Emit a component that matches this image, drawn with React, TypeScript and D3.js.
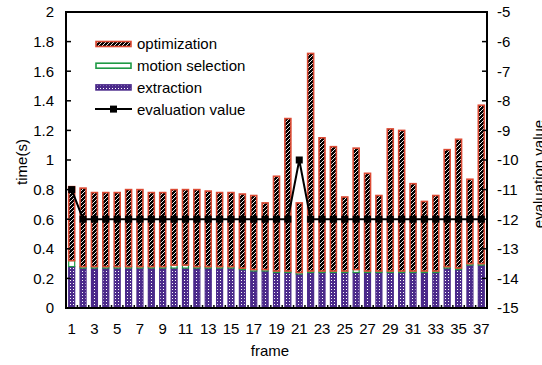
import React from 'react';
import * as d3 from 'd3';

const frames = [1, 2, 3, 4, 5, 6, 7, 8, 9, 10, 11, 12, 13, 14, 15, 16, 17, 18, 19, 20, 21, 22, 23, 24, 25, 26, 27, 28, 29, 30, 31, 32, 33, 34, 35, 36, 37];
const extraction = [0.28, 0.27, 0.27, 0.27, 0.27, 0.27, 0.27, 0.27, 0.27, 0.27, 0.27, 0.27, 0.27, 0.27, 0.27, 0.26, 0.25, 0.25, 0.24, 0.24, 0.23, 0.24, 0.24, 0.24, 0.24, 0.24, 0.24, 0.24, 0.24, 0.24, 0.24, 0.24, 0.24, 0.27, 0.26, 0.29, 0.29];
const motionSelection = [0.04, 0.01, 0.01, 0.01, 0.01, 0.01, 0.01, 0.01, 0.01, 0.02, 0.02, 0.01, 0.01, 0.01, 0.01, 0.01, 0.01, 0.01, 0.01, 0.01, 0.01, 0.01, 0.01, 0.01, 0.01, 0.02, 0.01, 0.01, 0.01, 0.01, 0.01, 0.01, 0.01, 0.01, 0.01, 0.01, 0.01];
const optimization = [0.50, 0.53, 0.50, 0.50, 0.50, 0.52, 0.52, 0.50, 0.50, 0.51, 0.51, 0.52, 0.51, 0.50, 0.50, 0.50, 0.50, 0.45, 0.64, 1.03, 0.47, 1.47, 0.90, 0.84, 0.50, 0.82, 0.66, 0.51, 0.96, 0.95, 0.59, 0.47, 0.51, 0.79, 0.87, 0.57, 1.07];
const evaluation = [-11, -12, -12, -12, -12, -12, -12, -12, -12, -12, -12, -12, -12, -12, -12, -12, -12, -12, -12, -12, -10, -12, -12, -12, -12, -12, -12, -12, -12, -12, -12, -12, -12, -12, -12, -12, -12];
const leftTicks = [0, 0.2, 0.4, 0.6, 0.8, 1, 1.2, 1.4, 1.6, 1.8, 2];
const rightTicks = [-15, -14, -13, -12, -11, -10, -9, -8, -7, -6, -5];

const RED = '#dc4a34';
const GREEN = '#1f9a45';
const PURPLE = '#4b2a8a';
const FONT = 'Liberation Sans, Arial, sans-serif';

export default function App() {
  const width = 542;
  const height = 365;
  const m = { left: 66, right: 487, top: 12, bottom: 308 };

  const x = d3.scaleBand<number>().domain(frames).range([m.left, m.right]).padding(0);
  const y = d3.scaleLinear().domain([0, 2]).range([m.bottom, m.top]);
  const y2 = d3.scaleLinear().domain([-15, -5]).range([m.bottom, m.top]);
  const bw = 6;
  const cx = (f: number) => (x(f) as number) + x.bandwidth() / 2;

  const line = d3.line<number>().x((d, i) => cx(frames[i])).y(d => y2(d));

  const legendRows = ['optimization', 'motion selection', 'extraction', 'evaluation value'];

  return (
    <svg width={width} height={height} style={{ position: 'absolute', left: 0, top: 0 }} fontFamily={FONT}>
      <defs>
        <pattern id="opt" patternUnits="userSpaceOnUse" width="4" height="4">
          <rect width="4" height="4" fill="#000" />
          <path d="M0,4 L4,0" stroke="#e8e8e8" strokeWidth="1" />
        </pattern>
        <pattern id="ext" patternUnits="userSpaceOnUse" width="3" height="3">
          <rect width="3" height="3" fill={PURPLE} />
          <rect x="1" y="1" width="1" height="1" fill="#ffffff" />
        </pattern>
      </defs>

      {/* bars */}
      {frames.map((f, i) => {
        const x0 = cx(f) - bw / 2;
        const e = extraction[i];
        const ms = motionSelection[i];
        const o = optimization[i];
        return (
          <g key={f}>
            <rect x={x0} y={y(e)} width={bw} height={y(0) - y(e)} fill="url(#ext)" stroke={PURPLE} strokeWidth={1.2} />
            <rect x={x0} y={y(e + ms)} width={bw} height={y(e) - y(e + ms)} fill="#fff" stroke={GREEN} strokeWidth={1.2} />
            <rect x={x0} y={y(e + ms + o)} width={bw} height={y(e + ms) - y(e + ms + o)} fill="url(#opt)" stroke={RED} strokeWidth={1.6} />
          </g>
        );
      })}

      {/* evaluation line */}
      <path d={line(evaluation) || ''} fill="none" stroke="#000" strokeWidth={2} />
      {evaluation.map((v, i) => (
        <rect key={i} x={cx(frames[i]) - 3.5} y={y2(v) - 3.5} width={7} height={7} fill="#000" />
      ))}

      {/* frame */}
      <rect x={m.left} y={m.top} width={m.right - m.left} height={m.bottom - m.top} fill="none" stroke="#000" strokeWidth={2} />

      {/* left axis */}
      {leftTicks.map(t => (
        <g key={t}>
          <line x1={m.left} x2={m.left + 5} y1={y(t)} y2={y(t)} stroke="#000" strokeWidth={1.5} />
          <text x={54} y={y(t)} dy="0.36em" textAnchor="end" fontSize={15}>{t}</text>
        </g>
      ))}
      {/* right axis */}
      {rightTicks.map(t => (
        <g key={t}>
          <line x1={m.right - 5} x2={m.right} y1={y2(t)} y2={y2(t)} stroke="#000" strokeWidth={1.5} />
          <text x={497} y={y2(t)} dy="0.36em" textAnchor="start" fontSize={15}>{t}</text>
        </g>
      ))}
      {/* bottom ticks */}
      {frames.slice(1).map(f => (
        <line key={f} x1={x(f)} x2={x(f)} y1={m.bottom} y2={m.bottom - 3} stroke="#000" strokeWidth={1.5} />
      ))}
      {frames.filter(f => f % 2 === 1).map(f => (
        <text key={f} x={cx(f)} y={334} textAnchor="middle" fontSize={15}>{f}</text>
      ))}

      {/* axis titles */}
      <text x={270} y={356} textAnchor="middle" fontSize={15}>frame</text>
      <text transform="translate(27,162) rotate(-90)" textAnchor="middle" fontSize={15}>time(s)</text>
      <text transform="translate(544,174) rotate(-90)" textAnchor="middle" fontSize={15}>evaluation value</text>

      {/* legend */}
      {legendRows.map((label, i) => {
        const ry = 44 + i * 21.7;
        return (
          <g key={label}>
            {i === 0 && <rect x={96} y={ry - 2.5} width={35} height={5} fill="url(#opt)" stroke={RED} strokeWidth={1.6} />}
            {i === 1 && <rect x={96} y={ry - 2.5} width={35} height={5} fill="#fff" stroke={GREEN} strokeWidth={1.6} />}
            {i === 2 && <rect x={96} y={ry - 2.5} width={35} height={5} fill="url(#ext)" stroke={PURPLE} strokeWidth={1.6} />}
            {i === 3 && (
              <g>
                <line x1={95} x2={132} y1={ry} y2={ry} stroke="#000" strokeWidth={2} />
                <rect x={110} y={ry - 3.5} width={7} height={7} fill="#000" />
              </g>
            )}
            <text x={137} y={ry} dy="0.36em" fontSize={15}>{label}</text>
          </g>
        );
      })}
    </svg>
  );
}
